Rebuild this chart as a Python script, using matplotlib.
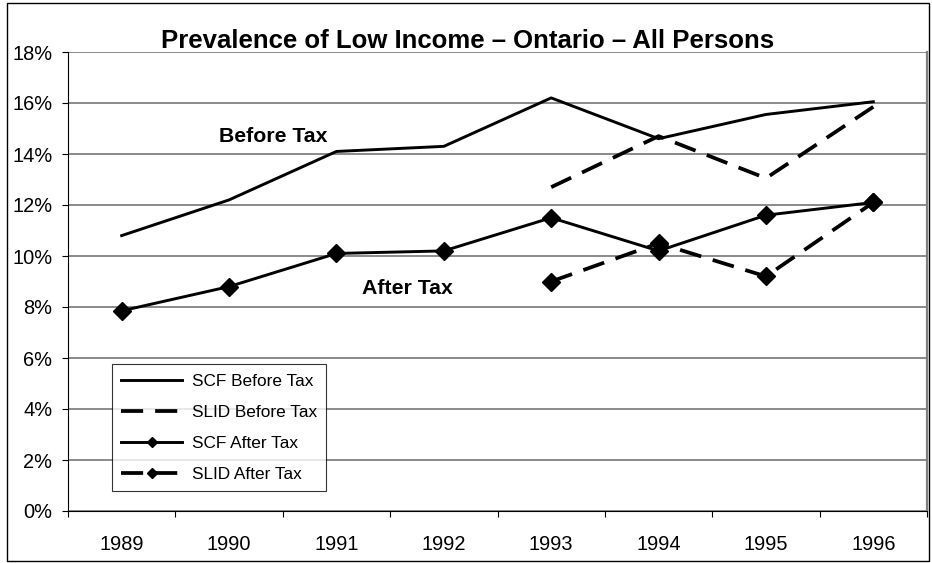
import matplotlib
matplotlib.use("Agg")
import matplotlib.pyplot as plt
from matplotlib.patches import Rectangle
import numpy as np

plt.rcParams['font.family'] = ['Liberation Sans', 'DejaVu Sans']

years = ['1989', '1990', '1991', '1992', '1993', '1994', '1995', '1996']
scf_before = [10.8, 12.2, 14.1, 14.3, 16.2, 14.6, 15.55, 16.05]
slid_before = [None, None, None, None, 12.7, 14.7, 13.05, 15.85]
scf_after = [7.85, 8.8, 10.1, 10.2, 11.5, 10.2, 11.6, 12.1]
slid_after = [None, None, None, None, 9.0, 10.5, 9.2, 12.1]
y_ticks = [0, 2, 4, 6, 8, 10, 12, 14, 16, 18]
title = 'Prevalence of Low Income \u2013 Ontario \u2013 All Persons'

W, H = 932, 563
fig = plt.figure(figsize=(W / 100, H / 100), dpi=100)
L, R, T, B = 68, 927, 52, 511
ax = fig.add_axes([L / W, 1 - B / H, (R - L) / W, (B - T) / H])

x = np.arange(len(years))

def arr(v):
    return np.array([np.nan if a is None else a for a in v], dtype=float)

ax.plot(x, arr(scf_before), color='black', lw=2.1, label='SCF Before Tax', zorder=3)
ax.plot(x, arr(slid_before), color='black', lw=2.7, linestyle=(0, (5.9, 3.2)),
        label='SLID Before Tax', zorder=3)
ax.plot(x, arr(scf_after), color='black', lw=2.1, marker='D', ms=9.2,
        label='SCF After Tax', zorder=3)
ax.plot(x, arr(slid_after), color='black', lw=2.7, linestyle=(0, (5.9, 3.2)),
        marker='D', ms=9.2, label='SLID After Tax', zorder=3)

ax.set_xlim(-0.5, len(years) - 0.5)
ax.set_ylim(0, 18)

ax.set_yticks(y_ticks)
ax.set_yticklabels([f'{v}%' for v in y_ticks], fontsize=14.4)
ax.tick_params(axis='y', direction='out', length=4.3, width=0.8, pad=7, colors='black')

ax.set_xticks(x)
ax.set_xticklabels(years, fontsize=14.4)
ax.tick_params(axis='x', which='major', length=0, pad=17)
ax.set_xticks(np.arange(-0.5, len(years) + 0.5, 1), minor=True)
ax.tick_params(axis='x', which='minor', direction='out', length=4.3, width=0.8)

ax.yaxis.grid(True, color='#777777', lw=1.2)
ax.set_axisbelow(True)

ax.spines['top'].set_visible(False)
ax.spines['right'].set_color('#808080')
ax.spines['right'].set_linewidth(1.6)
ax.spines['left'].set_color('black')
ax.spines['left'].set_linewidth(0.8)
ax.spines['bottom'].set_color('black')
ax.spines['bottom'].set_linewidth(0.8)

ax.text(1.407, 14.68, 'Before Tax', fontsize=15.3, fontweight='bold',
        ha='center', va='center')
ax.text(2.658, 8.73, 'After Tax', fontsize=15.3, fontweight='bold',
        ha='center', va='center')

fig.text(468 / W, 1 - 48 / H, title, fontsize=18.5, fontweight='bold',
         ha='center', va='baseline')

leg = ax.legend(loc='lower left', bbox_to_anchor=(112 / W, 1 - 491 / H),
                bbox_transform=fig.transFigure, borderaxespad=0,
                fontsize=12.4, handlelength=3.5, handletextpad=0.58,
                labelspacing=0.92, markerscale=0.6, fancybox=False,
                frameon=True, borderpad=0.55)
leg.get_frame().set_edgecolor('black')
leg.get_frame().set_linewidth(0.8)

fig.patches.append(Rectangle((7 / W, 1 - 561 / H), (929 - 7) / W, (561 - 3) / H,
                             transform=fig.transFigure, fill=False,
                             edgecolor='black', lw=1.0))

fig.savefig('out.png', dpi=100)
